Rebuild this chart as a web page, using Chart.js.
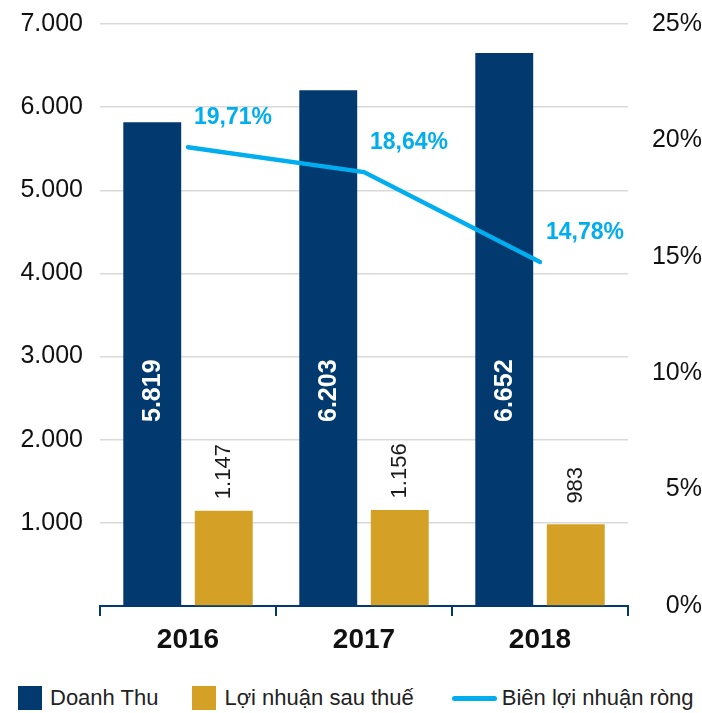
<!DOCTYPE html>
<html>
<head>
<meta charset="utf-8">
<script src="https://cdn.jsdelivr.net/npm/chart.js@4.4.1/dist/chart.umd.min.js"></script>
<style>
  body { margin: 0; background: #fff; }
  #wrap { position: relative; width: 702px; height: 713px; font-family: "Liberation Sans", Arial, sans-serif; }
  #chartBox { position: absolute; left: 0; top: 0; width: 702px; height: 660px; }
  #legend { position: absolute; left: 18px; top: 686px; display: flex; align-items: center; height: 24px; font-size: 22px; color: #222; white-space: nowrap; }
  .box { width: 24px; height: 24px; margin-right: 8px; }
  .line { width: 45px; height: 5px; border-radius: 3px; margin-right: 5px; }
  .gap1 { margin-left: 34px; }
  .gap2 { margin-left: 38px; }
</style>
</head>
<body>
<div id="wrap">
  <div id="chartBox"><canvas id="chartCanvas"></canvas></div>
  <div id="legend"></div>
</div>
<script>
const years = ["2016", "2017", "2018"];
const revenue = [5819, 6203, 6652]; // Doanh Thu
const profit = [1147, 1156, 983]; // Lợi nhuận sau thuế
const margin = [19.71, 18.64, 14.78]; // Biên lợi nhuận ròng (%)
const leftTicks = [0, 1000, 2000, 3000, 4000, 5000, 6000, 7000];
const rightTicks = [0, 5, 10, 15, 20, 25];

const NAVY = "#023a6f";
const GOLD = "#d4a026";
const BLUE = "#00aeef";
const FONT = '"Liberation Sans", Arial, sans-serif';

// 5819 -> "5.819"
function fmt(v) {
  return String(v).replace(/\B(?=(\d{3})+(?!\d))/g, ".");
}
function pct(v) {
  return v.toFixed(2).replace(".", ",") + "%";
}

// Draw the value labels on bars and line points
const valueLabels = {
  id: "valueLabels",
  afterDatasetsDraw(chart) {
    const ctx = chart.ctx;
    const base = chart.scales.y.getPixelForValue(0);

    chart.getDatasetMeta(0).data.forEach((bar, i) => {
      ctx.save();
      ctx.translate(bar.x + 1, base - 184);
      ctx.rotate(-Math.PI / 2);
      ctx.font = "bold 25px " + FONT;
      ctx.fillStyle = "#fff";
      ctx.textAlign = "left";
      ctx.textBaseline = "middle";
      ctx.fillText(fmt(revenue[i]), 0, 0);
      ctx.restore();
    });

    chart.getDatasetMeta(1).data.forEach((bar, i) => {
      ctx.save();
      ctx.translate(bar.x, bar.y - 39);
      ctx.rotate(-Math.PI / 2);
      ctx.font = "22px " + FONT;
      ctx.fillStyle = "#1a1a1a";
      ctx.textAlign = "center";
      ctx.textBaseline = "middle";
      ctx.fillText(fmt(profit[i]), 0, 0);
      ctx.restore();
    });

    chart.getDatasetMeta(2).data.forEach((pt, i) => {
      ctx.save();
      ctx.font = "bold 23px " + FONT;
      ctx.fillStyle = BLUE;
      ctx.textAlign = "left";
      ctx.textBaseline = "middle";
      ctx.fillText(pct(margin[i]), pt.x + 6, pt.y - 29);
      ctx.restore();
    });
  },
};

// fixed axis sizes so the plot area lines up with the reference
function fitY(width) {
  return (s) => {
    s.width = width;
    s.paddingTop = 0;
    s.paddingBottom = 0;
  };
}

const ctx = document.getElementById("chartCanvas").getContext("2d");
const chart = new Chart(ctx, {
  type: "bar",
  data: {
    labels: years,
    datasets: [
      {
        label: "Doanh Thu",
        data: revenue,
        backgroundColor: NAVY,
        categoryPercentage: 0.8125,
        barPercentage: 0.81,
        yAxisID: "y",
        order: 1,
      },
      {
        label: "Lợi nhuận sau thuế",
        data: profit,
        backgroundColor: GOLD,
        categoryPercentage: 0.8125,
        barPercentage: 0.81,
        yAxisID: "y",
        order: 1,
      },
      {
        type: "line",
        label: "Biên lợi nhuận ròng",
        data: margin,
        borderColor: BLUE,
        backgroundColor: BLUE,
        borderWidth: 4.5,
        borderCapStyle: "round",
        pointRadius: 0,
        tension: 0,
        yAxisID: "y1",
        order: 0,
      },
    ],
  },
  options: {
    responsive: true,
    maintainAspectRatio: false,
    animation: false,
    layout: { padding: { top: 24, left: 0, right: 0, bottom: 0 } },
    plugins: {
      legend: { display: false },
      tooltip: { enabled: false },
    },
    scales: {
      x: {
        grid: {
          offset: true,
          drawOnChartArea: false,
          drawTicks: true,
          tickLength: 10,
          color: NAVY,
          lineWidth: 2,
        },
        border: { color: NAVY, width: 2 },
        ticks: {
          padding: 7,
          color: "#111",
          font: { family: FONT, size: 28, weight: "bold" },
        },
        afterFit: (s) => { s.height = 54; },
      },
      y: {
        position: "left",
        min: leftTicks[0],
        max: leftTicks[leftTicks.length - 1],
        afterBuildTicks: (s) => { s.ticks = leftTicks.map((v) => ({ value: v })); },
        ticks: {
          padding: 17,
          color: "#111",
          font: { family: FONT, size: 25 },
          callback: (v) => (v === 0 ? "" : fmt(v)),
        },
        grid: {
          color: (c) => (c.tick && c.tick.value === 0 ? "rgba(0,0,0,0)" : "#d9d9d9"),
          lineWidth: 1.5,
          drawTicks: false,
        },
        border: { display: false },
        afterFit: fitY(100),
      },
      y1: {
        position: "right",
        min: rightTicks[0],
        max: rightTicks[rightTicks.length - 1],
        afterBuildTicks: (s) => { s.ticks = rightTicks.map((v) => ({ value: v })); },
        ticks: {
          padding: 19,
          crossAlign: "far",
          color: "#111",
          font: { family: FONT, size: 25 },
          callback: (v) => v + "%",
        },
        grid: { display: false, drawTicks: false },
        border: { display: false },
        afterFit: fitY(74),
      },
    },
  },
  plugins: [valueLabels],
});

// HTML legend built from the datasets
const legend = document.getElementById("legend");
chart.data.datasets.forEach((ds, i) => {
  const mark = document.createElement("span");
  mark.className = ds.type === "line" ? "line" : "box";
  mark.style.background = ds.type === "line" ? ds.borderColor : ds.backgroundColor;
  if (i > 0) mark.classList.add("gap" + i);
  const text = document.createElement("span");
  text.textContent = ds.label;
  legend.appendChild(mark);
  legend.appendChild(text);
});
</script>
</body>
</html>
